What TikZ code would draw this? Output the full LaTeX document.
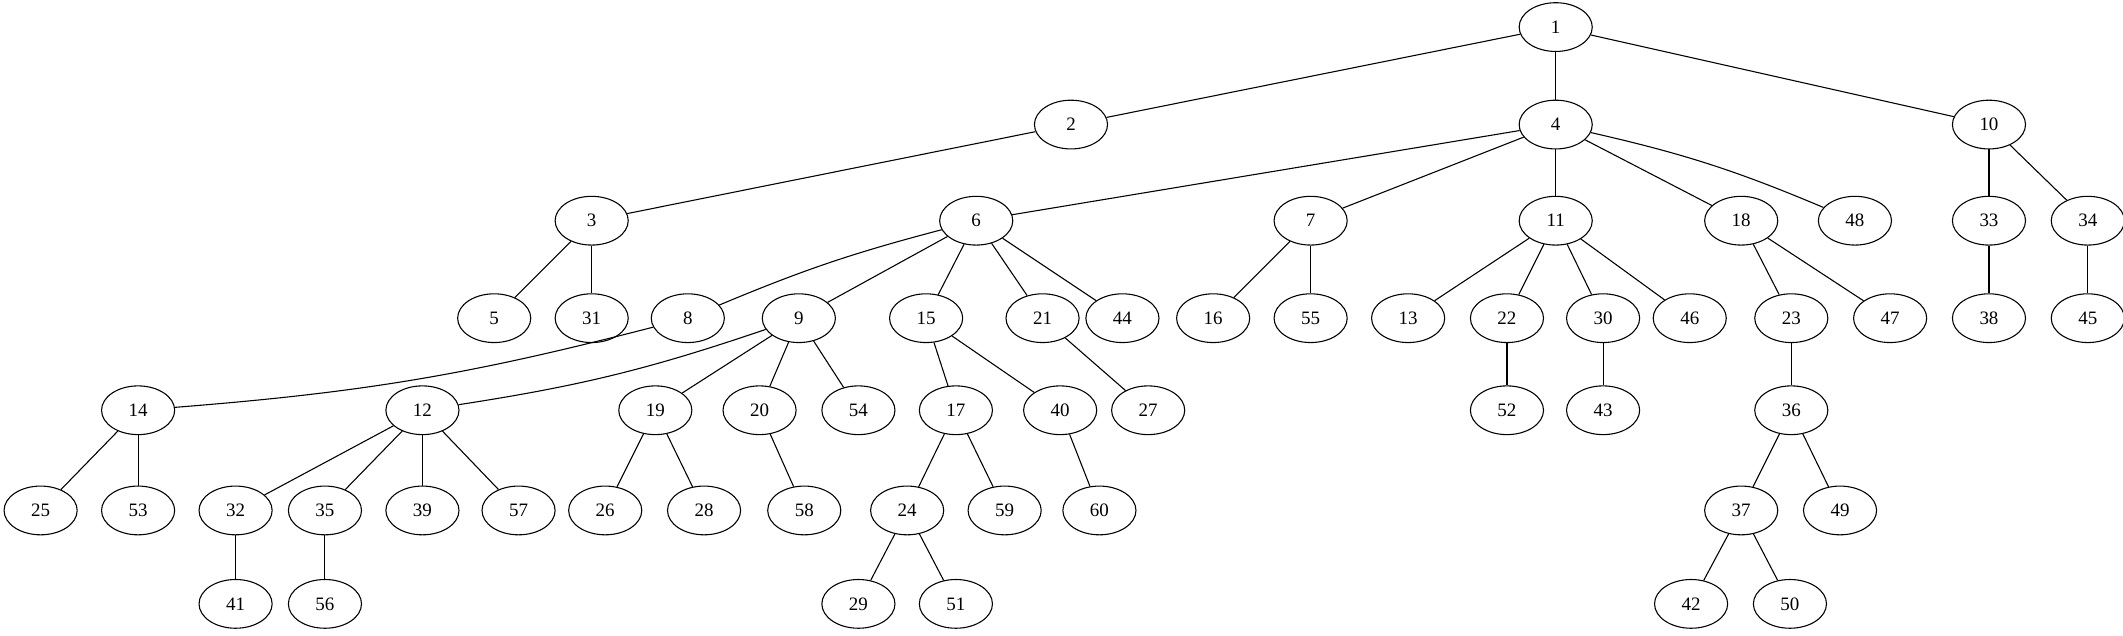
\documentclass[tikz,border=0pt]{standalone}
\usepackage{fontspec}
\setmainfont{Liberation Serif}
\usetikzlibrary{shapes.geometric}
\begin{document}
\begin{tikzpicture}[x=1pt,y=-1pt,
  nd/.style={draw,ellipse,minimum width=54pt,minimum height=36pt,inner sep=0pt,line width=0.8pt,font=\fontsize{14}{16}\selectfont},
  ed/.style={line width=0.8pt}]
\useasboundingbox (0,0) rectangle (1568,469);
% row 0
\node[nd] (n1) at (1149,20) {1};
% row 1
\node[nd] (n2) at (791,92) {2};
\node[nd] (n4) at (1149,92) {4};
\node[nd] (n10) at (1469,92) {10};
% row 2
\node[nd] (n3) at (437,163) {3};
\node[nd] (n6) at (721,163) {6};
\node[nd] (n7) at (968,163) {7};
\node[nd] (n11) at (1149,163) {11};
\node[nd] (n18) at (1286,163) {18};
\node[nd] (n48) at (1370,163) {48};
\node[nd] (n33) at (1469,163) {33};
\node[nd] (n34) at (1542,163) {34};
% row 3
\node[nd] (n5) at (365,235) {5};
\node[nd] (n31) at (437,235) {31};
\node[nd] (n8) at (508,235) {8};
\node[nd] (n9) at (590,235) {9};
\node[nd] (n15) at (684,235) {15};
\node[nd] (n21) at (770,235) {21};
\node[nd] (n44) at (829,235) {44};
\node[nd] (n16) at (896,235) {16};
\node[nd] (n55) at (968,235) {55};
\node[nd] (n13) at (1040,235) {13};
\node[nd] (n22) at (1113,235) {22};
\node[nd] (n30) at (1184,235) {30};
\node[nd] (n46) at (1248,235) {46};
\node[nd] (n23) at (1323,235) {23};
\node[nd] (n47) at (1396,235) {47};
\node[nd] (n38) at (1469,235) {38};
\node[nd] (n45) at (1542,235) {45};
% row 4
\node[nd] (n14) at (102,303) {14};
\node[nd] (n12) at (312,303) {12};
\node[nd] (n19) at (484,303) {19};
\node[nd] (n20) at (561,303) {20};
\node[nd] (n54) at (634,303) {54};
\node[nd] (n17) at (706,303) {17};
\node[nd] (n40) at (783,303) {40};
\node[nd] (n27) at (848,303) {27};
\node[nd] (n52) at (1113,303) {52};
\node[nd] (n43) at (1184,303) {43};
\node[nd] (n36) at (1323,303) {36};
% row 5
\node[nd] (n25) at (30,377) {25};
\node[nd] (n53) at (102,377) {53};
\node[nd] (n32) at (174,377) {32};
\node[nd] (n35) at (240,377) {35};
\node[nd] (n39) at (312,377) {39};
\node[nd] (n57) at (383,377) {57};
\node[nd] (n26) at (447,377) {26};
\node[nd] (n28) at (520,377) {28};
\node[nd] (n58) at (594,377) {58};
\node[nd] (n24) at (670,377) {24};
\node[nd] (n59) at (742,377) {59};
\node[nd] (n60) at (812,377) {60};
\node[nd] (n37) at (1286,377) {37};
\node[nd] (n49) at (1359,377) {49};
% row 6
\node[nd] (n41) at (174,446) {41};
\node[nd] (n56) at (240,446) {56};
\node[nd] (n29) at (634,446) {29};
\node[nd] (n51) at (706,446) {51};
\node[nd] (n42) at (1249,446) {42};
\node[nd] (n50) at (1322,446) {50};
% edges
\draw[ed] (n1) -- (n2);
\draw[ed] (n1) -- (n4);
\draw[ed] (n1) -- (n10);
\draw[ed] (n2) -- (n3);
\draw[ed] (n4) -- (n6);
\draw[ed] (n4) -- (n7);
\draw[ed] (n4) -- (n11);
\draw[ed] (n4) -- (n18);
\draw[ed] (n4) to[bend left=5] (n48);
\draw[ed] (n10) -- (n33);
\draw[ed] (n10) -- (n34);
\draw[ed] (n3) -- (n5);
\draw[ed] (n3) -- (n31);
\draw[ed] (n6) to[bend right=4] (n8);
\draw[ed] (n6) -- (n9);
\draw[ed] (n6) -- (n15);
\draw[ed] (n6) -- (n21);
\draw[ed] (n6) -- (n44);
\draw[ed] (n7) -- (n16);
\draw[ed] (n7) -- (n55);
\draw[ed] (n11) -- (n13);
\draw[ed] (n11) -- (n22);
\draw[ed] (n11) -- (n30);
\draw[ed] (n11) -- (n46);
\draw[ed] (n18) -- (n23);
\draw[ed] (n18) -- (n47);
\draw[ed] (n33) -- (n38);
\draw[ed] (n34) -- (n45);
\draw[ed] (n8) to[bend left=5] (n14);
\draw[ed] (n9) to[bend left=5] (n12);
\draw[ed] (n9) -- (n19);
\draw[ed] (n9) -- (n20);
\draw[ed] (n9) -- (n54);
\draw[ed] (n15) -- (n17);
\draw[ed] (n15) -- (n40);
\draw[ed] (n21) -- (n27);
\draw[ed] (n22) -- (n52);
\draw[ed] (n30) -- (n43);
\draw[ed] (n23) -- (n36);
\draw[ed] (n14) -- (n25);
\draw[ed] (n14) -- (n53);
\draw[ed] (n12) -- (n32);
\draw[ed] (n12) -- (n35);
\draw[ed] (n12) -- (n39);
\draw[ed] (n12) -- (n57);
\draw[ed] (n19) -- (n26);
\draw[ed] (n19) -- (n28);
\draw[ed] (n20) -- (n58);
\draw[ed] (n17) -- (n24);
\draw[ed] (n17) -- (n59);
\draw[ed] (n40) -- (n60);
\draw[ed] (n36) -- (n37);
\draw[ed] (n36) -- (n49);
\draw[ed] (n32) -- (n41);
\draw[ed] (n35) -- (n56);
\draw[ed] (n24) -- (n29);
\draw[ed] (n24) -- (n51);
\draw[ed] (n37) -- (n42);
\draw[ed] (n37) -- (n50);
\end{tikzpicture}
\end{document}
